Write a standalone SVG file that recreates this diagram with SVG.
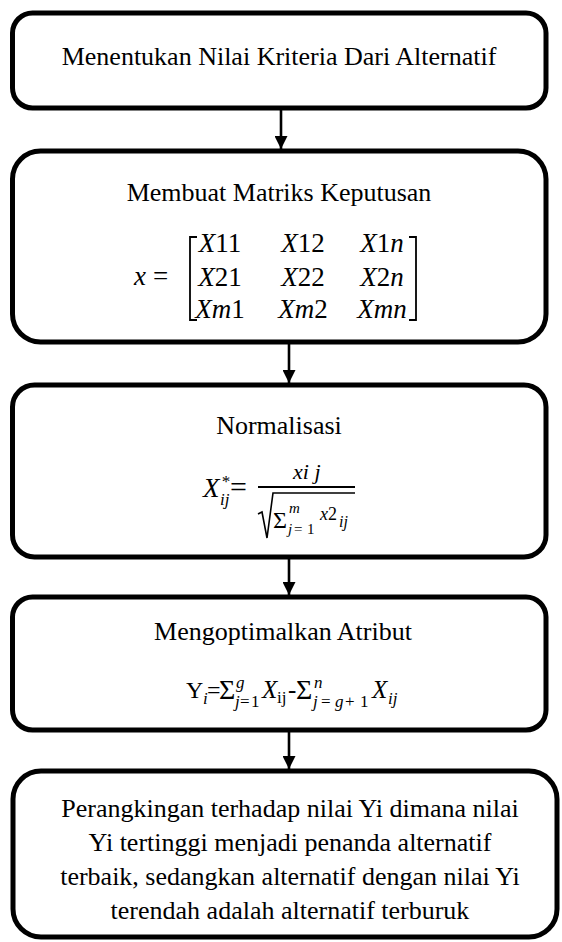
<svg xmlns="http://www.w3.org/2000/svg" width="562" height="942" viewBox="0 0 562 942">
<style>
.box{fill:#fff;stroke:#000;stroke-width:5}
.t{font-family:'Liberation Serif','DejaVu Serif',serif;font-size:26px;fill:#000;text-anchor:middle}
.m{font-family:'Liberation Serif','DejaVu Serif',serif;fill:#000}
.mc{text-anchor:middle}
.i{font-style:italic}
.con{stroke:#000;stroke-width:2.6;fill:none}
.br{stroke:#000;stroke-width:1.8;fill:none}
</style>
<defs>
<marker id="ah" markerUnits="userSpaceOnUse" viewBox="0 0 14 14" markerWidth="14" markerHeight="13" refX="14" refY="7" orient="auto">
<path d="M0,0 L14,7 L0,14 z" fill="#000"/>
</marker>
</defs>
<rect width="562" height="942" fill="#fff"/>
<g id="connectors">
<line class="con" x1="281" y1="110" x2="281" y2="149" marker-end="url(#ah)"/>
<line class="con" x1="289" y1="344" x2="289" y2="383" marker-end="url(#ah)"/>
<line class="con" x1="289" y1="559" x2="289" y2="595" marker-end="url(#ah)"/>
<line class="con" x1="289" y1="732" x2="289" y2="769" marker-end="url(#ah)"/>
</g>
<g id="n1">
<rect class="box" x="12.5" y="13" width="533.5" height="95" rx="20"/>
<text class="t" x="279" y="65">Menentukan Nilai Kriteria Dari Alternatif</text>
</g>
<g id="n2">
<rect class="box" x="12.5" y="151" width="533.5" height="191" rx="28"/>
<text class="t" x="279" y="201">Membuat Matriks Keputusan</text>
<text class="m" y="285" style="font-size:27px"><tspan class="i" x="134">x</tspan><tspan x="153">=</tspan></text>
<path class="br" d="M197,237 H190 V320 H197"/>
<path class="br" d="M409,237 H416 V320 H409"/>
<g style="font-size:27px">
<text class="m mc" x="220" y="252"><tspan class="i">X</tspan>11</text>
<text class="m mc" x="303" y="252"><tspan class="i">X</tspan>12</text>
<text class="m mc" x="382" y="252"><tspan class="i">X</tspan>1<tspan class="i">n</tspan></text>
<text class="m mc" x="220" y="286"><tspan class="i">X</tspan>21</text>
<text class="m mc" x="303" y="286"><tspan class="i">X</tspan>22</text>
<text class="m mc" x="382" y="286"><tspan class="i">X</tspan>2<tspan class="i">n</tspan></text>
<text class="m mc" x="220" y="318"><tspan class="i">Xm</tspan>1</text>
<text class="m mc" x="303" y="318"><tspan class="i">Xm</tspan>2</text>
<text class="m mc" x="382" y="318"><tspan class="i">Xmn</tspan></text>
</g>
</g>
<g id="n3">
<rect class="box" x="12.5" y="385" width="533.5" height="172" rx="22"/>
<text class="t" x="279" y="434">Normalisasi</text>
<text class="m" style="font-size:27px"><tspan class="i" x="203" y="497">X</tspan><tspan class="i" x="221" y="487" style="font-size:17px">*</tspan><tspan class="i" x="220" y="505" style="font-size:17px">ij</tspan><tspan x="230" y="497" style="font-size:30px">=</tspan></text>
<line x1="258" y1="487" x2="355" y2="487" stroke="#000" stroke-width="2"/>
<text class="m i" x="293" y="479" style="font-size:22px">xi j</text>
<path d="M258,514 L262,512 L267,538 L273,493 H355" stroke="#000" stroke-width="1.6" fill="none"/>
<text class="m" style="font-size:15px"><tspan x="273" y="528" style="font-size:24px">Σ</tspan><tspan class="i" x="289" y="513">m</tspan><tspan class="i" x="288" y="534">j</tspan><tspan x="294" y="534">=</tspan><tspan x="307" y="534">1</tspan><tspan class="i" x="320" y="520" style="font-size:18px">x</tspan><tspan x="328" y="520" style="font-size:18px">2</tspan><tspan class="i" x="339" y="527" style="font-size:16px">ij</tspan></text>
</g>
<g id="n4">
<rect class="box" x="12.5" y="597" width="533.5" height="133" rx="20"/>
<text class="t" x="283" y="640">Mengoptimalkan Atribut</text>
<text class="m" style="font-size:17px"><tspan x="186" y="698" style="font-size:24px">Y</tspan><tspan class="i" x="203" y="704">i</tspan><tspan x="207" y="698" style="font-size:24px">=</tspan><tspan x="219" y="699" style="font-size:28px">Σ</tspan><tspan class="i" x="236" y="688">g</tspan><tspan class="i" x="235" y="707">j</tspan><tspan x="240" y="707">=</tspan><tspan x="251" y="707">1</tspan><tspan class="i" x="262" y="698" style="font-size:25px">X</tspan><tspan x="277" y="703">ij</tspan><tspan x="288" y="698" style="font-size:25px">-</tspan><tspan x="296" y="699" style="font-size:28px">Σ</tspan><tspan class="i" x="314" y="688">n</tspan><tspan class="i" x="313" y="707">j</tspan><tspan x="321" y="707">=</tspan><tspan class="i" x="335" y="707">g</tspan><tspan x="345" y="707">+</tspan><tspan x="360" y="707">1</tspan><tspan class="i" x="372" y="698" style="font-size:25px">X</tspan><tspan class="i" x="388" y="704">ij</tspan></text>
</g>
<g id="n5">
<rect class="box" x="13" y="771" width="544" height="166" rx="28"/>
<text class="t" x="290" y="817">Perangkingan terhadap nilai Yi dimana nilai</text>
<text class="t" x="290" y="851">Yi tertinggi menjadi penanda alternatif</text>
<text class="t" x="290" y="885">terbaik, sedangkan alternatif dengan nilai Yi</text>
<text class="t" x="290" y="919">terendah adalah alternatif terburuk</text>
</g>
</svg>
